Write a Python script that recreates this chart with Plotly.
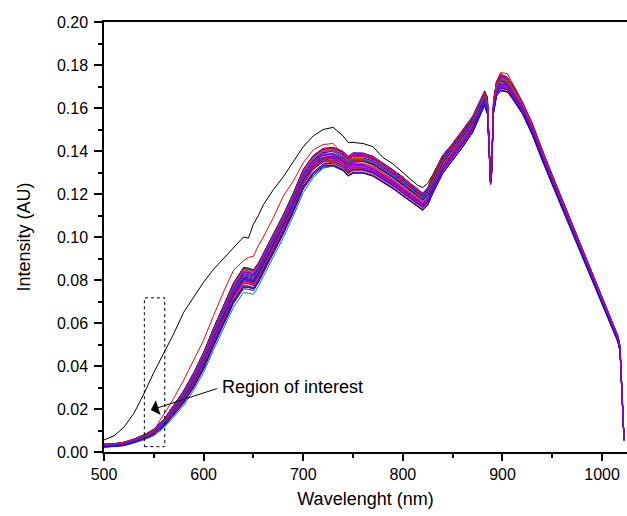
import plotly.graph_objects as go

# Wavelength grid (nm)
wl = [500, 510, 520, 530, 540, 550, 560, 570, 580, 590, 600, 610, 620, 630, 640, 645, 650, 655, 660,
      670, 680, 690, 700, 710, 720, 730, 740, 745, 750, 760, 770, 780, 790, 800, 810, 815, 820, 825, 830,
      840, 850, 860, 870, 880, 882, 885, 887, 888, 889, 891, 894, 898, 905, 910, 920, 930, 940, 950, 960,
      970, 980, 990, 1000, 1010, 1016, 1018, 1020, 1022]

# Centre of the bundle of spectra
band_center = [.0030, .0032, .0038, .0052, .0070, .0093, .0135, .0195, .0257, .0335, .0425, .0535, .0640, .0740,
               .0810, .0808, .0800, .0835, .0880, .0970, .1060, .1160, .1270, .1335, .1370, .1375, .1355, .1330,
               .1345, .1345, .1330, .1300, .1270, .1235, .1200, .1180, .1165, .1190, .1245, .1338, .1396, .1459,
               .1524, .1625, .1645, .1600, .1350, .1255, .1300, .1600, .1690, .1720, .1710, .1675, .1600, .1500,
               .1378, .1265, .1152, .1040, .0927, .0814, .0701, .0589, .0525, .0480, .0300, .0060]

# Half spread of the bundle
band_half = [.0008, .0008, .0009, .0010, .0012, .0015, .0020, .0028, .0035, .0042, .0048, .0052, .0055, .0058,
             .0060, .0060, .0058, .0056, .0055, .0055, .0055, .0055, .0055, .0055, .0052, .0050, .0050, .0050,
             .0050, .0048, .0046, .0045, .0044, .0043, .0042, .0042, .0040, .0040, .0042, .0042, .0040, .0040,
             .0038, .0035, .0033, .0030, .0015, .0010, .0012, .0025, .0035, .0040, .0038, .0035, .0030, .0028,
             .0026, .0025, .0024, .0023, .0022, .0021, .0020, .0018, .0016, .0014, .0010, .0008]

# Change of ordering inside the bundle along wavelength
band_tilt = [0.2, 0.2, 0.3, 0.4, 0.5, 0.5, 0.5, 0.5, 0.5, 0.5, 0.5, 0.5, 0.5, 0.5, 0.5, 0.5, 0.5, 0.5, 0.5,
             0.5, 0.5, 0.5, 0.5, 0.4, 0.3, 0.2, 0.1, 0.0, -0.1, -0.2, -0.3, -0.3, -0.3, -0.3, -0.3, -0.3, -0.3,
             -0.3, -0.3, -0.3, -0.3, -0.3, -0.3, -0.3, -0.2, -0.2, -0.2, -0.2, -0.2, -0.2, -0.2, -0.2, 0.0, 0.1,
             0.2, 0.3, 0.3, 0.3, 0.3, 0.3, 0.3, 0.3, 0.3, 0.3, 0.3, 0.3, 0.3, 0.3]

# Outlier spectra
black_spec = [.0056, .0075, .0115, .0180, .0270, .0370, .0460, .0550, .0650, .0720, .0790, .0850, .0900, .0950,
              .1000, .0995, .1060, .1100, .1150, .1220, .1280, .1350, .1420, .1470, .1500, .1510, .1470, .1440,
              .1440, .1435, .1420, .1370, .1340, .1300, .1260, .1240, .1230, .1250, .1290, .1380, .1430, .1490,
              .1550, .1640, .1680, .1650, .1400, .1260, .1300, .1640, .1720, .1745, .1740, .1710, .1625, .1515,
              .1390, .1275, .1160, .1048, .0935, .0820, .0706, .0593, .0528, .0482, .0300, .0060]

red_spec = [.0030, .0032, .0038, .0053, .0070, .0100, .0175, .0250, .0335, .0425, .0520, .0635, .0745, .0845,
            .0890, .0905, .0910, .0960, .1000, .1090, .1190, .1260, .1345, .1405, .1430, .1435, .1385, .1370,
            .1390, .1385, .1365, .1340, .1310, .1280, .1230, .1205, .1190, .1210, .1270, .1370, .1425, .1490,
            .1555, .1655, .1670, .1620, .1360, .1260, .1305, .1620, .1720, .1765, .1760, .1715, .1630, .1530,
            .1405, .1290, .1175, .1062, .0948, .0835, .0720, .0605, .0540, .0490, .0300, .0060]

# Position of each bundled spectrum inside the bundle
series_p = [-0.95, 0.9, 0.1, -0.4, 0.5, -0.7, 0.3, -0.1, 0.7, -0.55, 0.2, -0.3, 0.6, -0.85, 0.0, 0.4, -0.2,
            0.8, -0.6, 0.15, -0.45, 0.55, -0.05, 0.35, -0.75, 0.25, -0.25, 0.65, -0.5, 0.05, 0.45, -0.35, 0.75,
            -0.65, 0.1, -0.15, 0.3, -0.9, 0.85, 0.0]
series_q = [0.2, -0.3, 0.8, -0.6, 0.4, -0.9, 0.6, -0.4, 0.1, 0.9, -0.7, 0.5, -0.2, 0.3, -0.8, 0.7, -0.5, 0.0,
            0.6, -0.9, 0.4, -0.3, 0.9, -0.6, 0.2, -0.1, 0.8, -0.7, 0.5, -0.4, 0.3, 0.7, -0.5, 0.1, -0.8, 0.6,
            -0.2, 0.4, -0.3, 0.9]
series_colors = ["#0000FF", "#0000FF", "#FF00FF", "#FF0000", "#800080", "#008080", "#8000FF", "#FF8000",
                 "#000080", "#808000", "#FF0000", "#0000FF", "#FF00FF", "#800000", "#8000FF", "#00A000",
                 "#FF0000", "#0000FF", "#800080", "#FF00FF", "#008080", "#FF0000", "#8000FF", "#0000FF",
                 "#FF8000", "#800080", "#FF00FF", "#000080", "#FF0000", "#0000FF", "#808000", "#8000FF",
                 "#FF00FF", "#0000FF", "#FF0000", "#800080", "#008080", "#0000FF", "#FF0000", "#8000FF"]

FONT = "Liberation Sans, Arial, Helvetica, sans-serif"

fig = go.Figure()
fig.add_trace(go.Scatter(x=wl, y=black_spec, mode="lines", line=dict(color="#000000", width=1), showlegend=False))
fig.add_trace(go.Scatter(x=wl, y=red_spec, mode="lines", line=dict(color="#FF0000", width=1), showlegend=False))
for p, q, c in zip(series_p, series_q, series_colors):
    ys = [m + h * (p + q * t) for m, h, t in zip(band_center, band_half, band_tilt)]
    fig.add_trace(go.Scatter(x=wl, y=ys, mode="lines", line=dict(color=c, width=1), showlegend=False))

# Region of interest box and arrow
fig.add_shape(type="rect", x0=540.5, x1=561, y0=0.0025, y1=0.0717, xref="x", yref="y",
              line=dict(color="black", width=1, dash="dot"))
fig.add_annotation(x=547, y=0.0195, ax=614.8, ay=0.0297, xref="x", yref="y", axref="x", ayref="y",
                   text="", showarrow=True, arrowhead=1, arrowsize=2.6, arrowwidth=1, arrowcolor="black")
fig.add_annotation(x=616.5, y=0.0304, xref="x", yref="y", text="Region of interest", showarrow=False,
                   xanchor="left", yanchor="middle", font=dict(family=FONT, size=18, color="black"))

fig.update_layout(
    width=627, height=516,
    margin=dict(l=104, r=0, t=22, b=64),
    paper_bgcolor="white", plot_bgcolor="white",
    font=dict(family=FONT, color="black"),
    showlegend=False,
    xaxis=dict(range=[500, 1025], tickmode="linear", tick0=500, dtick=100,
               ticks="outside", ticklen=7, tickwidth=1.5, tickcolor="black",
               showline=True, linecolor="black", linewidth=1.5, mirror=True,
               showgrid=False, zeroline=False,
               tickfont=dict(family=FONT, size=16, color="black"),
               minor=dict(dtick=50, ticks="outside", ticklen=4, tickwidth=1.5, tickcolor="black", showgrid=False),
               title=dict(text="Wavelenght (nm)", font=dict(family=FONT, size=18, color="black"), standoff=10)),
    yaxis=dict(range=[0, 0.20], tickmode="linear", tick0=0, dtick=0.02, tickformat=".2f",
               ticks="outside", ticklen=8, tickwidth=1.5, tickcolor="black",
               showline=True, linecolor="black", linewidth=1.5, mirror=False,
               showgrid=False, zeroline=False, ticklabelstandoff=3,
               tickfont=dict(family=FONT, size=16, color="black"),
               minor=dict(dtick=0.01, ticks="outside", ticklen=4, tickwidth=1.5, tickcolor="black", showgrid=False),
               title=dict(text="Intensity (AU)", font=dict(family=FONT, size=18, color="black"), standoff=22)),
)

fig.write_html("out.html", config={"displayModeBar": False})
